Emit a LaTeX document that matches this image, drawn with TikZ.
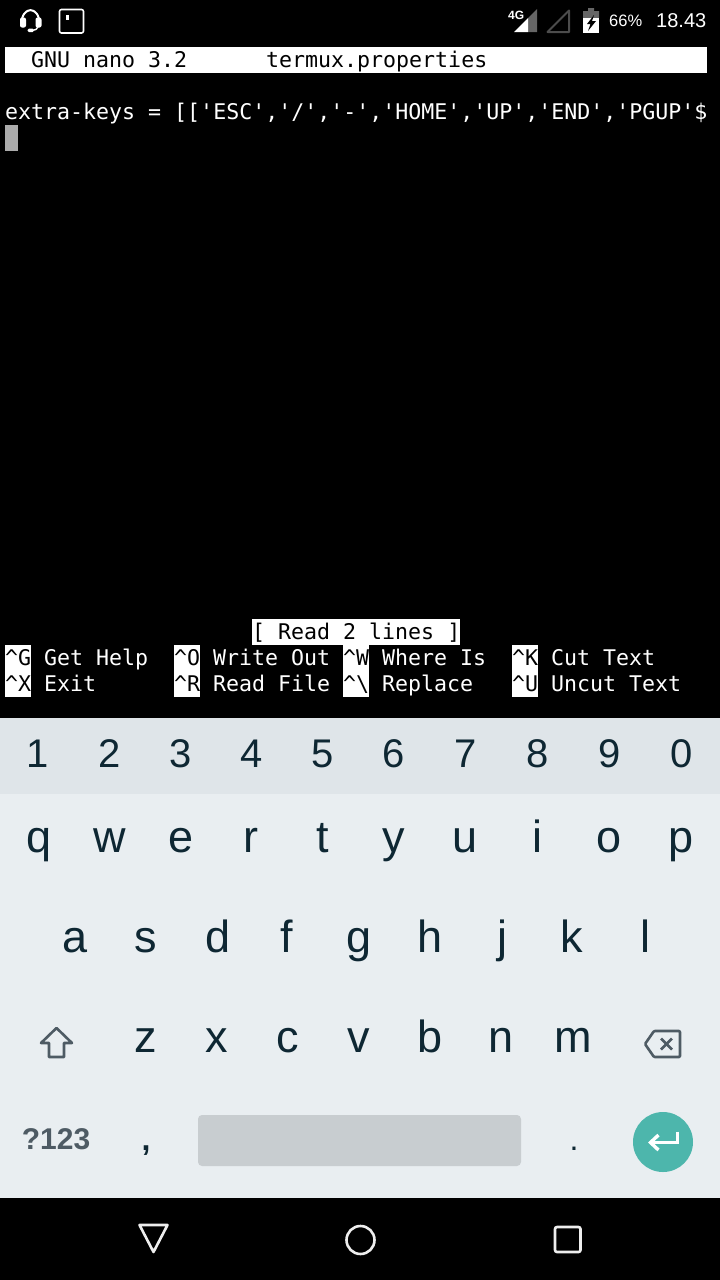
\documentclass[tikz,border=0pt]{standalone}
\usepackage{fontspec}
\setmonofont{DejaVu Sans Mono}
\newfontfamily\keyfam{Liberation Sans}
\usetikzlibrary{arrows.meta}
\definecolor{numrow}{HTML}{DFE5E9}
\definecolor{keybg}{HTML}{E9EEF1}
\definecolor{keyink}{HTML}{0E2733}
\definecolor{keygray}{HTML}{4E5B64}
\definecolor{spacebar}{HTML}{C8CDD0}
\definecolor{entergreen}{HTML}{4DB6AC}
\definecolor{navline}{HTML}{EEEEEE}
\tikzset{
  termtext/.style={anchor=base west,inner sep=0pt,text=white,font=\ttfamily\fontsize{21.6}{26}\selectfont},
  terminv/.style={termtext,text=black},
  digitkey/.style={anchor=base,inner sep=0pt,xshift=1pt,text=keyink,font=\keyfam\fontsize{40}{40}\selectfont},
  letterkey/.style={anchor=base,inner sep=0pt,xshift=1pt,text=keyink,font=\keyfam\fontsize{45}{45}\selectfont},
  statustext/.style={anchor=base west,inner sep=0pt,text=white,font=\keyfam\fontsize{19}{19}\selectfont},
  navicon/.style={draw=navline,line width=2.6pt,line join=round},
  grayicon/.style={draw=keygray,line width=2.6pt,line join=round}
}
\begin{document}
\begin{tikzpicture}[x=1pt,y=-1pt]
  \fill[black] (0,0) rectangle (720,1280);
  \useasboundingbox (0,0) rectangle (720,1280);

  % status bar
  \draw[white,line width=2pt] (21.5,24) .. controls (21.5,5.5) and (39.5,5.5) .. (39.5,24);% headset band
  \fill[white,rounded corners=2pt] (20,17.5) rectangle (26,27.5);
  \fill[white,rounded corners=2pt] (35.5,17.5) rectangle (41.5,27.5);
  \draw[white,line width=1.4pt] (38,27) .. controls (37.5,29.5) and (35,30) .. (32,30.5);
  \fill[white,rounded corners=1.5pt] (27.5,28.5) rectangle (34,32);
  \draw[white,line width=1.6pt,rounded corners=2pt] (59.5,9.5) rectangle (83.5,33);
  \fill[white] (66,15) rectangle (69,20);
  \fill[white!40!black] (528,32) -- (528,18) -- (537,9) -- (537,32) -- cycle;
  \fill[white] (514,32) -- (528,18) -- (528,32) -- cycle;
  \node[anchor=base west,inner sep=0pt,text=white,font=\keyfam\bfseries\fontsize{12}{12}\selectfont] (netlabel) at (508,19) {4G};
  \draw[white!30!black,line width=2pt,line join=round] (547.5,32) -- (569,10.5) -- (569,32) -- cycle;
  \fill[white!40!black] (583,18) -- (583,11) -- (588,11) -- (588,8) -- (594,8) -- (594,11) -- (599,11) -- (599,18) -- cycle;
  \fill[white] (583,18) rectangle (599,33);
  \fill[black] (594,15) -- (587,24) -- (590.5,24) -- (588,31) -- (596,21) -- (592,21) -- cycle;% bolt
  \node[statustext,font=\keyfam\fontsize{16.5}{18}\selectfont] (batterypct) at (609,26) {66\%};
  \node[statustext,font=\keyfam\fontsize{20}{20}\selectfont] (clock) at (656,27) {18.43};

  % nano title and text
  \fill[white] (5,47) rectangle (707,73);
  \node[terminv] (nanotitle) at (31,67) {GNU nano 3.2};
  \node[terminv] (filetitle) at (266,67) {termux.properties};
  \node[termtext] (extraline) at (5,119) {extra-keys = [['ESC','/','-','HOME','UP','END','PGUP'\$};
  \fill[white!67!black] (5,125) rectangle (18,151);% cursor

  % nano bottom rows
  \def\rowG{665}
  \def\rowX{691}
  \fill[white] (252,619) rectangle (460,645);
  \node[terminv] (readmsg) at (252,639) {[ Read 2 lines ]};
  \fill[white] (5,645) rectangle (31,697);
  \fill[white] (174,645) rectangle (200,697);
  \fill[white] (343,645) rectangle (369,697);
  \fill[white] (512,645) rectangle (538,697);
  \node[terminv] (ctrlG) at (5,\rowG) {\textasciicircum G};
  \node[terminv] (ctrlX) at (5,\rowX) {\textasciicircum X};
  \node[terminv] (ctrlO) at (174,\rowG) {\textasciicircum O};
  \node[terminv] (ctrlR) at (174,\rowX) {\textasciicircum R};
  \node[terminv] (ctrlW) at (343,\rowG) {\textasciicircum W};
  \node[terminv] (ctrlB) at (343,\rowX) {\textasciicircum\textbackslash};
  \node[terminv] (ctrlK) at (512,\rowG) {\textasciicircum K};
  \node[terminv] (ctrlU) at (512,\rowX) {\textasciicircum U};
  \node[termtext] (gethelp) at (44,\rowG) {Get Help};
  \node[termtext] (exit) at (44,\rowX) {Exit};
  \node[termtext] (writeout) at (213,\rowG) {Write Out};
  \node[termtext] (readfile) at (213,\rowX) {Read File};
  \node[termtext] (whereis) at (382,\rowG) {Where Is};
  \node[termtext] (replace) at (382,\rowX) {Replace};
  \node[termtext] (cuttext) at (551,\rowG) {Cut Text};
  \node[termtext] (uncuttext) at (551,\rowX) {Uncut Text};

  % keyboard
  \fill[numrow] (0,718) rectangle (720,794);
  \fill[keybg] (0,794) rectangle (720,1198);

  \def\rowNum{767}
  \node[digitkey] (num1) at (37,\rowNum) {1};
  \node[digitkey] (num2) at (109,\rowNum) {2};
  \node[digitkey] (num3) at (180,\rowNum) {3};
  \node[digitkey] (num4) at (251,\rowNum) {4};
  \node[digitkey] (num5) at (322,\rowNum) {5};
  \node[digitkey] (num6) at (393,\rowNum) {6};
  \node[digitkey] (num7) at (465,\rowNum) {7};
  \node[digitkey] (num8) at (537,\rowNum) {8};
  \node[digitkey] (num9) at (609,\rowNum) {9};
  \node[digitkey] (num0) at (681,\rowNum) {0};

  \def\rowQ{852}
  \node[letterkey] (keyq) at (38,\rowQ) {q};
  \node[letterkey] (keyw) at (109,\rowQ) {w};
  \node[letterkey] (keye) at (180,\rowQ) {e};
  \node[letterkey] (keyr) at (250,\rowQ) {r};
  \node[letterkey] (keyt) at (322,\rowQ) {t};
  \node[letterkey] (keyy) at (393,\rowQ) {y};
  \node[letterkey] (keyu) at (464,\rowQ) {u};
  \node[letterkey] (keyi) at (536,\rowQ) {i};
  \node[letterkey] (keyo) at (608,\rowQ) {o};
  \node[letterkey] (keyp) at (680,\rowQ) {p};

  \def\rowA{952}
  \node[letterkey] (keya) at (74,\rowA) {a};
  \node[letterkey] (keys) at (145,\rowA) {s};
  \node[letterkey] (keyd) at (217,\rowA) {d};
  \node[letterkey] (keyf) at (286,\rowA) {f};
  \node[letterkey] (keyg) at (358,\rowA) {g};
  \node[letterkey] (keyh) at (429,\rowA) {h};
  \node[letterkey] (keyj) at (501,\rowA) {j};
  \node[letterkey] (keyk) at (571,\rowA) {k};
  \node[letterkey] (keyl) at (644,\rowA) {l};

  \def\rowZ{1052}
  \node[letterkey] (keyz) at (145,\rowZ) {z};
  \node[letterkey] (keyx) at (216,\rowZ) {x};
  \node[letterkey] (keyc) at (287,\rowZ) {c};
  \node[letterkey] (keyv) at (358,\rowZ) {v};
  \node[letterkey] (keyb) at (429,\rowZ) {b};
  \node[letterkey] (keyn) at (500,\rowZ) {n};
  \node[letterkey] (keym) at (572,\rowZ) {m};

  \draw[grayicon] (56.5,1028) -- (72,1043) -- (64,1043) -- (64,1057) -- (49,1057) -- (49,1043) -- (41,1043) -- cycle;% shift
  \draw[grayicon,rounded corners=1pt] (645,1044) -- (654,1031) -- (680,1031) -- (680,1057) -- (654,1057) -- cycle;% backspace
  \draw[keygray,line width=2.6pt] (661,1038.5) -- (672,1049.5);
  \draw[keygray,line width=2.6pt] (672,1038.5) -- (661,1049.5);

  % bottom row
  \node[anchor=base,inner sep=0pt,text=keygray,font=\keyfam\bfseries\fontsize{30}{32}\selectfont] (symkey) at (56,1149) {?123};
  \node[anchor=base,inner sep=0pt,text=keyink,font=\keyfam\bfseries\fontsize{32}{32}\selectfont] (commakey) at (146,1150) {,};
  \fill[spacebar,rounded corners=4pt] (198,1115) rectangle (521,1166);
  \node[anchor=base,inner sep=0pt,text=keyink,font=\keyfam\fontsize{32}{32}\selectfont] (periodkey) at (574,1150) {.};
  \fill[entergreen] (663,1142) circle[radius=30pt];
  \draw[white,line width=3.4pt,-{Straight Barb[length=8pt,width=15pt]}] (677.5,1131.5) -- (677.5,1142.5) -- (648,1142.5);% enter

  % navigation bar
  \draw[navicon] (139.5,1225) -- (167.5,1225) -- (153.5,1252) -- cycle;
  \draw[navicon] (360.5,1240) circle[radius=14pt];
  \draw[navicon,rounded corners=2pt] (555,1227) rectangle (580.5,1252);
\end{tikzpicture}
\end{document}
